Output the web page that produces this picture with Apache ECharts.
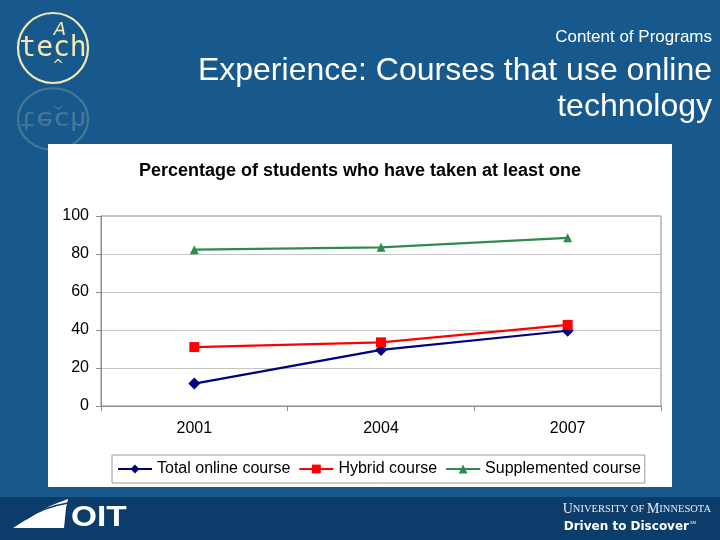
<!DOCTYPE html>
<html>
<head>
<meta charset="utf-8">
<script src="https://cdn.jsdelivr.net/npm/echarts@6/dist/echarts.min.js"></script>
<style>
html,body{margin:0;padding:0;background:#17598c;}
#c{width:720px;height:540px;}
</style>
</head>
<body>
<div id="c"></div>
<script>
const categories = ['2001', '2004', '2007'];
const seriesNames = ['Total online course', 'Hybrid course', 'Supplemented course'];
const totalOnline = [11.8, 29.5, 39.6];
const hybrid = [31.0, 33.5, 42.7];
const supplemented = [82.3, 83.5, 88.5];
const yMin = 0, yMax = 100, yStep = 20;

const chart = echarts.init(document.getElementById('c'), null, {renderer: 'canvas'});
const F = 'Liberation Sans, Arial, sans-serif';
const logoColor = '#f3e9b0';

function logoGroup(y, sy, opacity, withA) {
  const kids = [
    {type: 'circle', z: -8, shape: {cx: 53, cy: 0, r: 35}, style: {fill: 'none', stroke: logoColor, lineWidth: 2.2, opacity: opacity}},
    {type: 'text', z: -8, style: {x: 53, y: 1, text: 'tech', font: '28px "DejaVu Sans Mono", monospace', fill: logoColor, align: 'center', verticalAlign: 'middle', opacity: opacity}},
    {type: 'text', z: -8, style: {x: 58, y: 18, text: '^', font: '14px "DejaVu Sans", sans-serif', fill: logoColor, align: 'center', verticalAlign: 'middle', opacity: opacity}}
  ];
  if (withA) kids.push({type: 'text', z: -8, style: {x: 60, y: -18, text: 'A', font: 'italic 18px "DejaVu Sans", sans-serif', fill: logoColor, align: 'center', verticalAlign: 'middle', opacity: opacity}});
  return {type: 'group', x: 0, y: y, scaleY: sy, silent: true, children: kids};
}

const option = {
  backgroundColor: '#17598c',
  animation: false,
  title: {
    text: 'Percentage of students who have taken at least one',
    left: 'center', top: 157,
    textStyle: {fontFamily: F, fontWeight: 'bold', fontSize: 18, color: '#000'}
  },
  graphic: [
    {type: 'rect', z: -10, shape: {x: 0, y: 497, width: 720, height: 43}, style: {fill: '#0c3c69'}, silent: true},
    logoGroup(48, 1, 1, true),
    logoGroup(119, -0.88, 0.22, false),
    {type: 'rect', z: -5, shape: {x: 48, y: 144, width: 624, height: 343}, style: {fill: '#ffffff'}, silent: true},
    {type: 'text', style: {x: 712, y: 37, text: 'Content of Programs', font: '17px ' + F, fill: '#ffffff', align: 'right', verticalAlign: 'middle'}},
    {type: 'text', style: {x: 712, y: 71, text: 'Experience: Courses that use online', font: '32px ' + F, fill: '#ffffff', align: 'right', verticalAlign: 'middle'}},
    {type: 'text', style: {x: 712, y: 107, text: 'technology', font: '32px ' + F, fill: '#ffffff', align: 'right', verticalAlign: 'middle'}},
    {type: 'polygon', shape: {points: [[13, 528], [24, 521], [37, 513], [50, 506], [60, 502], [68, 499], [66, 508], [65, 518], [64, 528]]}, style: {fill: '#ffffff'}, silent: true},
    {type: 'bezierCurve', shape: {x1: 26, y1: 519, x2: 68, y2: 503, cpx1: 42, cpy1: 508, cpx2: 56, cpy2: 505}, style: {stroke: '#0c3c69', lineWidth: 1.6, fill: 'none'}, silent: true},
    {type: 'group', x: 71, y: 518, scaleX: 1.15, silent: true, children: [
      {type: 'text', style: {x: 0, y: 0, text: 'OIT', font: 'bold 29px ' + F, fill: '#ffffff', align: 'left', verticalAlign: 'middle'}}
    ]},
    {type: 'text', style: {x: 711, y: 509, text: '{b|U}{s|NIVERSITY OF }{b|M}{s|INNESOTA}', align: 'right', verticalAlign: 'middle',
      rich: {b: {font: '14px "Liberation Serif", serif', fill: '#e8eef5'}, s: {font: '10.5px "Liberation Serif", serif', fill: '#e8eef5'}}}},
    {type: 'text', style: {x: 689, y: 527, text: 'Driven to Discover', font: 'bold 12px "DejaVu Sans", sans-serif', fill: '#ffffff', align: 'right', verticalAlign: 'middle'}},
    {type: 'text', style: {x: 690, y: 523, text: 'SM', font: '4px ' + F, fill: '#ffffff', align: 'left', verticalAlign: 'middle'}}
  ],
  legend: {
    data: seriesNames,
    left: 112, top: 455,
    padding: [6, 4, 6, 5],
    itemGap: 8,
    itemWidth: 34, itemHeight: 11,
    borderColor: '#9a9a9a', borderWidth: 1,
    backgroundColor: '#ffffff',
    textStyle: {fontFamily: F, fontSize: 16, color: '#000'}
  },
  grid: {
    left: 101, right: 59, top: 216, bottom: 134,
    show: true, borderColor: '#8c8c8c', borderWidth: 1, backgroundColor: '#ffffff'
  },
  xAxis: {
    type: 'category', data: categories, boundaryGap: true,
    axisLine: {lineStyle: {color: '#8c8c8c'}},
    axisTick: {show: true, inside: false, length: 5, lineStyle: {color: '#8c8c8c'}},
    axisLabel: {fontFamily: F, fontSize: 16, color: '#000', margin: 15}
  },
  yAxis: {
    type: 'value', min: yMin, max: yMax, interval: yStep,
    axisLine: {show: true, lineStyle: {color: '#8c8c8c'}},
    axisTick: {show: true, length: 5, lineStyle: {color: '#8c8c8c'}},
    axisLabel: {fontFamily: F, fontSize: 16, color: '#000', margin: 12},
    splitLine: {lineStyle: {color: '#c4c4c4'}}
  },
  series: [
    {name: seriesNames[0], type: 'line', data: totalOnline, symbol: 'diamond', symbolSize: 12,
      lineStyle: {color: '#000080', width: 2.2}, itemStyle: {color: '#000080'}},
    {name: seriesNames[1], type: 'line', data: hybrid, symbol: 'rect', symbolSize: 10,
      lineStyle: {color: '#ff0000', width: 2.2}, itemStyle: {color: '#ff0000'}},
    {name: seriesNames[2], type: 'line', data: supplemented, symbol: 'triangle', symbolSize: 9,
      lineStyle: {color: '#2e8b4e', width: 2.2}, itemStyle: {color: '#2e8b4e'}}
  ]
};
chart.setOption(option);
</script>
</body>
</html>
